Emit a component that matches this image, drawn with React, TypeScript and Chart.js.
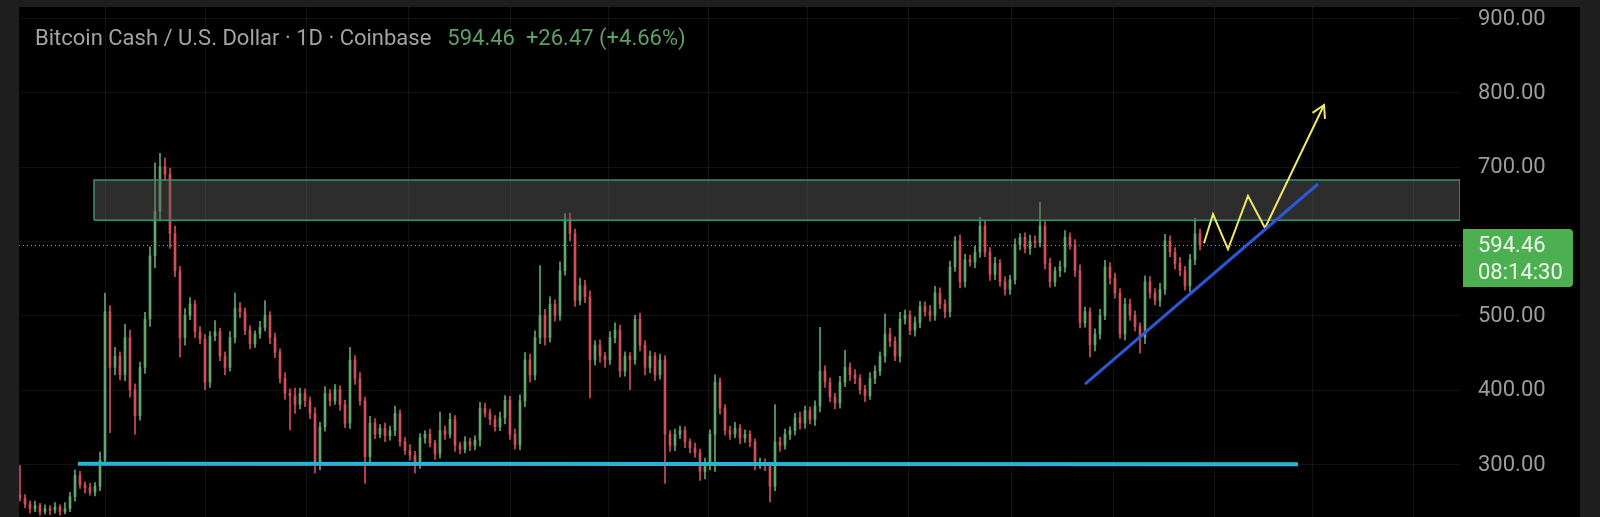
import React, { useEffect, useRef } from "react";
import { Chart, registerables } from "chart.js";
Chart.register(...registerables);

const TITLE = "Bitcoin Cash / U.S. Dollar · 1D · Coinbase";
const QUOTE = "594.46  +26.47 (+4.66%)";
const LAST_PRICE = 594.46;
const COUNTDOWN = "08:14:30";
const FIRST_OPEN = 258;

const closes = [
  254, 246, 240, 244, 236, 240, 238, 242, 236, 240, 256, 285, 272, 268, 262, 270, 305, 505, 430, 445,
  420, 470, 400, 365, 430, 495, 580, 640, 700, 690, 610, 560, 470, 500, 515, 478, 468, 410, 472, 478,
  445, 430, 470, 510, 505, 480, 462, 475, 484, 500, 470, 450, 415, 395, 392, 380, 395, 385, 368, 300,
  350, 395, 385, 400, 380, 355, 440, 415, 385, 310, 355, 340, 348, 338, 345, 368, 330, 318, 312, 300,
  335, 340, 328, 314, 345, 340, 360, 325, 320, 330, 325, 332, 375, 368, 360, 350, 362, 386, 340, 326,
  385, 440, 420, 470, 500, 470, 515, 500, 560, 630, 610, 520, 540, 525, 440, 460, 445, 440, 470, 480,
  425, 445, 440, 495, 460, 430, 445, 420, 440, 340, 325, 340, 345, 330, 322, 315, 290, 300, 340, 410,
  375, 345, 340, 348, 335, 340, 330, 300, 302, 298, 270, 330, 325, 340, 345, 362, 355, 372, 360, 378,
  425, 410, 390, 382, 410, 430, 420, 415, 400, 392, 415, 425, 445, 475, 465, 445, 495, 500, 480, 490,
  512, 505, 500, 530, 515, 505, 565, 600, 545, 575, 572, 585, 620, 585, 555, 570, 545, 535, 548, 595,
  605, 590, 600, 598, 620, 570, 545, 560, 565, 605, 595, 560, 490, 505, 460, 475, 500, 565, 550, 530,
  475, 515, 500, 485, 470, 545, 530, 520, 535, 600, 585, 570, 560, 540, 575, 610, 594,
];

const wickUp = [
  40, 5, 4, 6, 3, 5, 4, 6, 3, 8, 6, 7, 5, 4, 6, 5, 11, 25, 8, 12,
  6, 18, 10, 8, 7, 9, 12, 65, 18, 12, 8, 10, 6, 9, 9, 5, 7, 6, 6, 15,
  5, 6, 8, 20, 7, 5, 6, 4, 8, 20, 5, 6, 5, 8, 6, 10, 7, 6, 5, 8,
  6, 9, 5, 7, 5, 6, 17, 6, 8, 5, 9, 6, 5, 7, 6, 10, 5, 6, 8, 5,
  6, 5, 7, 4, 25, 6, 8, 5, 4, 7, 5, 6, 8, 7, 6, 5, 8, 6, 5, 7,
  8, 10, 8, 9, 67, 8, 10, 6, 12, 7, 8, 6, 10, 7, 8, 6, 7, 5, 8, 10,
  7, 6, 5, 5, 8, 6, 7, 5, 8, 6, 5, 7, 6, 5, 4, 6, 5, 8, 6, 10,
  6, 5, 6, 8, 5, 6, 5, 4, 6, 5, 4, 50, 6, 7, 5, 6, 8, 6, 5, 7,
  59, 7, 6, 5, 8, 23, 6, 7, 5, 6, 8, 7, 6, 27, 8, 6, 9, 7, 6, 8,
  7, 6, 8, 9, 7, 6, 8, 6, 8, 7, 6, 8, 12, 7, 6, 8, 5, 7, 6, 8,
  5, 6, 8, 7, 32, 6, 7, 5, 8, 9, 6, 7, 8, 6, 5, 7, 8, 9, 6, 7,
  6, 8, 7, 6, 5, 8, 7, 6, 8, 9, 7, 6, 8, 6, 7, 21, 6,
];

const wickDn = [
  4, 5, 6, 4, 5, 3, 6, 4, 5, 3, 4, 6, 5, 7, 4, 5, 6, 6, 88, 10,
  7, 8, 10, 25, 6, 8, 10, 16, 12, 8, 20, 8, 26, 10, 6, 8, 6, 10, 7, 6,
  6, 10, 5, 7, 8, 6, 7, 5, 6, 5, 8, 7, 6, 8, 46, 12, 6, 8, 7, 12,
  8, 6, 7, 5, 8, 6, 7, 8, 6, 36, 7, 6, 5, 8, 6, 7, 6, 5, 7, 12,
  6, 7, 5, 8, 6, 7, 5, 8, 6, 5, 7, 6, 8, 5, 7, 6, 5, 8, 7, 6,
  7, 8, 10, 7, 8, 10, 6, 8, 7, 6, 10, 8, 6, 8, 51, 7, 8, 10, 6, 7,
  8, 7, 40, 6, 8, 10, 7, 8, 6, 66, 8, 7, 6, 8, 7, 6, 12, 10, 8, 50,
  8, 6, 7, 5, 8, 6, 7, 8, 6, 7, 21, 6, 8, 5, 7, 6, 8, 7, 6, 8,
  8, 7, 6, 8, 7, 6, 8, 7, 6, 8, 5, 7, 6, 8, 7, 6, 8, 7, 6, 8,
  7, 6, 8, 7, 6, 8, 7, 6, 8, 7, 6, 8, 7, 6, 8, 7, 6, 8, 7, 6,
  7, 6, 8, 7, 6, 8, 7, 6, 8, 7, 6, 8, 7, 6, 16, 8, 7, 6, 8, 7,
  6, 8, 7, 6, 21, 8, 7, 6, 8, 7, 6, 8, 7, 6, 8, 7, 6,
];

const yTicks = [300, 400, 500, 600, 700, 800, 900];
const monthStarts = [17, 37, 57.2, 77.6, 98, 117.6, 137.6, 157.4, 177.6, 198.2, 218.6, 238.8, 258.4, 278.6];

const X_MIN = -0.2;
const X_MAX = 288;
const Y_MIN = 228.7;
const Y_MAX = 914.8;

const zoneStart = 14.8;
const zoneLow = 628;
const zoneHigh = 682;
const supportLine = [
  { x: 11.6, y: 300.5 },
  { x: 255.6, y: 299.5 },
];
const trendLine = [
  { x: 213, y: 407.5 },
  { x: 259.6, y: 676.7 },
];
const projection = [
  { x: 236.8, y: 597 },
  { x: 238.6, y: 636 },
  { x: 241.6, y: 589 },
  { x: 245.6, y: 660.6 },
  { x: 249, y: 617.5 },
  { x: 260.8, y: 783 },
];
const arrowHead = [
  { x: 258.5, y: 772.4 },
  { x: 260.8, y: 783 },
  { x: 261, y: 764.2 },
];

const UP = "#62a66c";
const DOWN = "#cf4f5b";
const GRID = "rgba(255,255,255,0.07)";
const W = 1600;
const H = 517;

export default function App() {
  const ref = useRef<HTMLCanvasElement | null>(null);

  useEffect(() => {
    document.body.style.margin = "0";
    document.body.style.background = "#1e1e1e";
    const canvas = ref.current;
    if (!canvas) return;

    const opens = closes.map((c, i) => (i === 0 ? FIRST_OPEN : closes[i - 1]));
    const colors = closes.map((c, i) => (c >= opens[i] ? UP : DOWN));
    const bodies = closes.map((c, i) => {
      const lo = Math.min(c, opens[i]);
      const hi = Math.max(c, opens[i]);
      return { x: i, y: [lo, hi === lo ? hi + 1 : hi] };
    });
    const wicks = closes.map((c, i) => ({
      x: i,
      y: [Math.min(c, opens[i]) - wickDn[i], Math.max(c, opens[i]) + wickUp[i]],
    }));
    const zonePts = [
      { x: zoneStart, y: zoneLow },
      { x: zoneStart, y: zoneHigh },
      { x: X_MAX, y: zoneHigh },
      { x: X_MAX, y: zoneLow },
      { x: zoneStart, y: zoneLow },
    ];

    const framePlugin = {
      id: "frame",
      beforeDraw(chart: any) {
        const { ctx, width, height } = chart;
        ctx.save();
        ctx.fillStyle = "#1e1e1e";
        ctx.fillRect(0, 0, width, height);
        ctx.fillStyle = "#000000";
        ctx.fillRect(19, 7, 1580 - 19, height - 7);
        ctx.restore();
      },
      beforeDatasetsDraw(chart: any) {
        const { ctx, chartArea } = chart;
        const xs = chart.scales.x;
        const ys = chart.scales.y;
        ctx.save();
        ctx.strokeStyle = GRID;
        ctx.lineWidth = 1;
        monthStarts.forEach((v) => {
          const px = Math.round(xs.getPixelForValue(v)) + 0.5;
          ctx.beginPath();
          ctx.moveTo(px, chartArea.top);
          ctx.lineTo(px, chartArea.bottom);
          ctx.stroke();
        });
        yTicks.forEach((v) => {
          const py = Math.round(ys.getPixelForValue(v)) + 0.5;
          ctx.beginPath();
          ctx.moveTo(chartArea.left, py);
          ctx.lineTo(chartArea.right, py);
          ctx.stroke();
        });
        const y = ys.getPixelForValue(LAST_PRICE);
        ctx.strokeStyle = "#8a8a8a";
        ctx.setLineDash([1, 3]);
        ctx.beginPath();
        ctx.moveTo(chartArea.left, Math.round(y) + 0.5);
        ctx.lineTo(chartArea.right, Math.round(y) + 0.5);
        ctx.stroke();
        ctx.restore();
      },
      afterDraw(chart: any) {
        const { ctx } = chart;
        const ys = chart.scales.y;
        ctx.save();
        ctx.textBaseline = "middle";
        ctx.textAlign = "left";

        ctx.font = "22px Roboto";
        ctx.fillStyle = "#9c9c9c";
        yTicks.forEach((v) => {
          ctx.fillText(v.toFixed(2), 1478, ys.getPixelForValue(v) + 1);
        });

        ctx.font = "22px Roboto";
        ctx.fillStyle = "#a3a3a3";
        ctx.fillText(TITLE, 35, 39);
        const w = ctx.measureText(TITLE).width;
        ctx.fillStyle = "#5e9f68";
        ctx.fillText(QUOTE, 35 + w + 16, 39);

        const py = ys.getPixelForValue(LAST_PRICE);
        const bx = 1463, by = py - 16, bw = 110, bh = 58, r = 4;
        ctx.fillStyle = "#4caf50";
        ctx.beginPath();
        ctx.moveTo(bx, by);
        ctx.lineTo(bx + bw - r, by);
        ctx.quadraticCurveTo(bx + bw, by, bx + bw, by + r);
        ctx.lineTo(bx + bw, by + bh - r);
        ctx.quadraticCurveTo(bx + bw, by + bh, bx + bw - r, by + bh);
        ctx.lineTo(bx, by + bh);
        ctx.closePath();
        ctx.fill();
        ctx.fillStyle = "#eef7ee";
        ctx.font = "22px Roboto";
        ctx.fillText(LAST_PRICE.toFixed(2), 1478, py + 1);
        ctx.fillText(COUNTDOWN, 1478, py + 28);
        ctx.restore();
      },
    };

    const chart = new Chart(canvas, {
      type: "bar",
      data: {
        datasets: [
          {
            type: "line",
            label: "zone",
            data: zonePts,
            borderColor: "#3d8f72",
            borderWidth: 1.5,
            backgroundColor: "rgba(90,90,90,0.5)",
            fill: "shape",
            pointRadius: 0,
            tension: 0,
            order: 1,
          } as any,
          {
            type: "line",
            label: "support",
            data: supportLine,
            borderColor: "#2ab4d4",
            borderWidth: 4,
            pointRadius: 0,
            fill: false,
            order: 0,
          } as any,
          {
            type: "line",
            label: "trend",
            data: trendLine,
            borderColor: "#2e57d6",
            borderWidth: 3,
            pointRadius: 0,
            fill: false,
            order: 0,
          } as any,
          {
            type: "line",
            label: "projection",
            data: projection,
            borderColor: "#f2e66a",
            borderWidth: 2,
            pointRadius: 0,
            fill: false,
            order: 0,
          } as any,
          {
            type: "line",
            label: "arrow",
            data: arrowHead,
            borderColor: "#f2e66a",
            borderWidth: 2,
            pointRadius: 0,
            fill: false,
            order: 0,
          } as any,
          {
            type: "bar",
            label: "wicks",
            data: wicks,
            backgroundColor: colors,
            barThickness: 1,
            grouped: false,
            order: 3,
          } as any,
          {
            type: "bar",
            label: "bodies",
            data: bodies,
            backgroundColor: colors,
            barThickness: 2,
            grouped: false,
            order: 2,
          } as any,
        ],
      },
      options: {
        responsive: false,
        maintainAspectRatio: false,
        animation: false,
        events: [],
        layout: { padding: { left: 19, top: 7, right: 140, bottom: 0 } },
        plugins: { legend: { display: false }, tooltip: { enabled: false } },
        scales: {
          x: {
            type: "linear",
            display: false,
            min: X_MIN,
            max: X_MAX,
            offset: false,
          },
          y: {
            type: "linear",
            display: false,
            min: Y_MIN,
            max: Y_MAX,
          },
        },
      } as any,
      plugins: [framePlugin],
    });

    return () => chart.destroy();
  }, []);

  return (
    <canvas
      ref={ref}
      width={W}
      height={H}
      style={{ display: "block", width: W, height: H }}
    />
  );
}
